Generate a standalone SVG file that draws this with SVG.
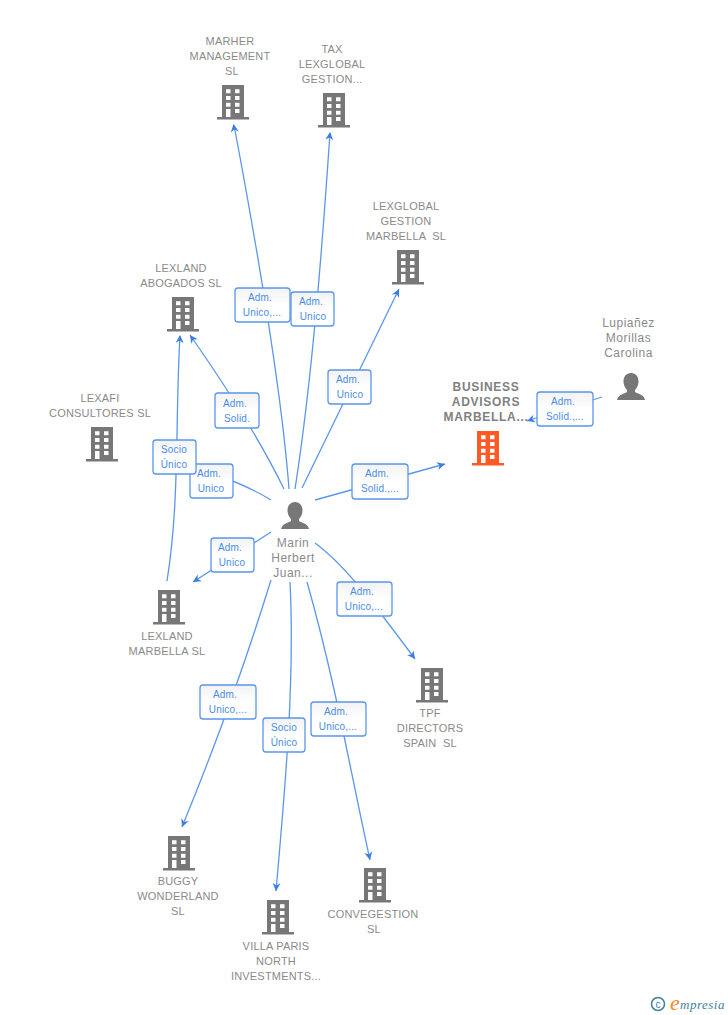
<svg xmlns="http://www.w3.org/2000/svg" width="728" height="1015" viewBox="0 0 728 1015">
<style>
text{font-family:"Liberation Sans",Arial,sans-serif}
.n{font-size:11px;fill:#8a8a8a;text-anchor:middle;letter-spacing:.2px}
.b{font-size:12px;fill:#808080;font-weight:700;text-anchor:middle;letter-spacing:.7px}
.p{font-size:12px;fill:#8a8a8a;text-anchor:middle;letter-spacing:.5px}
.e{font-size:10px;fill:#4a8ce6;text-anchor:middle;letter-spacing:.2px}
.box{fill:url(#g);stroke:#5a97ea;stroke-width:1.300}
.c{fill:none;stroke:#5a97ea;stroke-width:1.300}
.h{fill:#3a7fe0}
</style>
<defs>
<linearGradient id="g" x1="0" y1="0" x2="0" y2="1"><stop offset="0" stop-color="#f2f2f2"/><stop offset=".5" stop-color="#fff"/></linearGradient>
<path id="ah" d="M0 0L-8 -4L-5.500 0L-8 4Z"/>
<g id="bld">
<path fill-rule="evenodd" d="M5 0H27V32H32V34.500H0V32H5ZM9 4.300V8.300H13.500V4.300ZM18 4.300V8.300H22.500V4.300ZM9 11V15H13.500V11ZM18 11V15H22.500V11ZM9 17.700V21.700H13.500V17.700ZM18 17.700V21.700H22.500V17.700ZM9 24V32H13.500V24ZM18 24V28H22.500V24Z"/>
</g>
<path id="per" d="M14 1C19 1 21.500 5 21.500 9.500C21.500 13 20 16 18 18L18 20C21 22 27 22.500 28 28H0C1 22.500 7 22 10 20L10 18C8 16 6.500 13 6.500 9.500C6.500 5 9 1 14 1Z"/>
</defs>
<g id="connectors">
<path class="c" d="M289 489C283 410 266 295 234 125"/><use href="#ah" class="h" transform="translate(233.500 124) rotate(-99)"/>
<path class="c" d="M295 489C312 380 322 250 330 133"/><use href="#ah" class="h" transform="translate(330 132) rotate(-85)"/>
<path class="c" d="M302 488L399 289"/><use href="#ah" class="h" transform="translate(399 289) rotate(-64)"/>
<path class="c" d="M284 489C260 440 225 385 190 335"/><use href="#ah" class="h" transform="translate(190 335) rotate(-125)"/>
<path class="c" d="M271 500C235 478 190 465 153 456"/>
<path class="c" d="M167 581C180 500 175 420 180 336"/><use href="#ah" class="h" transform="translate(180 335) rotate(-88)"/>
<path class="c" d="M315 500L445 464"/><use href="#ah" class="h" transform="translate(445 464) rotate(-15)"/>
<path class="c" d="M602 397L527 421"/><use href="#ah" class="h" transform="translate(527 421) rotate(162)"/>
<path class="c" d="M271 532L193 582"/><use href="#ah" class="h" transform="translate(193 582) rotate(148)"/>
<path class="c" d="M315 543C345 565 375 605 415 659"/><use href="#ah" class="h" transform="translate(415 659) rotate(54)"/>
<path class="c" d="M271 580Q233 703 182 827"/><use href="#ah" class="h" transform="translate(182 827) rotate(112)"/>
<path class="c" d="M290 582C295 680 285 790 276 891"/><use href="#ah" class="h" transform="translate(276 891) rotate(94)"/>
<path class="c" d="M307 582C335 680 350 770 370 860"/><use href="#ah" class="h" transform="translate(370 860) rotate(78)"/>
</g>
<g id="n-marher" fill="#777"><use href="#bld" x="217" y="85"/><text class="n" x="230" y="45">MARHER</text><text class="n" x="230" y="60">MANAGEMENT</text><text class="n" x="232" y="75">SL</text></g>
<g id="n-tax" fill="#777"><use href="#bld" x="318" y="93"/><text class="n" x="332" y="53">TAX</text><text class="n" x="332" y="68">LEXGLOBAL</text><text class="n" x="332" y="83">GESTION...</text></g>
<g id="n-lexglobal" fill="#777"><use href="#bld" x="392" y="250"/><text class="n" x="406" y="210">LEXGLOBAL</text><text class="n" x="406" y="225">GESTION</text><text class="n" x="406" y="240" xml:space="preserve">MARBELLA  SL</text></g>
<g id="n-abogados" fill="#777"><use href="#bld" x="167" y="297"/><text class="n" x="181" y="272">LEXLAND</text><text class="n" x="181" y="287">ABOGADOS SL</text></g>
<g id="n-lexafi" fill="#777"><use href="#bld" x="86" y="427"/><text class="n" x="100" y="402">LEXAFI</text><text class="n" x="100" y="417">CONSULTORES SL</text></g>
<g id="n-business" fill="#ff5a26"><use href="#bld" x="472" y="431"/><text class="b" x="486" y="391">BUSINESS</text><text class="b" x="486" y="406">ADVISORS</text><text class="b" x="486" y="421">MARBELLA...</text></g>
<g id="n-lupianez" fill="#777"><use href="#per" x="617" y="372"/><text class="p" x="628.500" y="327">Lupiañez</text><text class="p" x="628.500" y="342">Morillas</text><text class="p" x="628.500" y="357">Carolina</text></g>
<g id="n-marin" fill="#777"><use href="#per" x="281" y="501"/><text class="p" x="293" y="547">Marin</text><text class="p" x="293" y="562">Herbert</text><text class="p" x="293" y="577">Juan...</text></g>
<g id="n-marbella" fill="#777"><use href="#bld" x="153" y="590"/><text class="n" x="167" y="640">LEXLAND</text><text class="n" x="167" y="655">MARBELLA SL</text></g>
<g id="n-tpf" fill="#777"><use href="#bld" x="416" y="668"/><text class="n" x="430" y="717">TPF</text><text class="n" x="430" y="732">DIRECTORS</text><text class="n" x="430" y="747" xml:space="preserve">SPAIN  SL</text></g>
<g id="n-buggy" fill="#777"><use href="#bld" x="163" y="836"/><text class="n" x="178" y="885">BUGGY</text><text class="n" x="178" y="900">WONDERLAND</text><text class="n" x="178" y="915">SL</text></g>
<g id="n-villa" fill="#777"><use href="#bld" x="262" y="900"/><text class="n" x="276" y="950">VILLA PARIS</text><text class="n" x="276" y="965">NORTH</text><text class="n" x="276" y="980">INVESTMENTS...</text></g>
<g id="n-conve" fill="#777"><use href="#bld" x="359" y="868"/><text class="n" x="373" y="918">CONVEGESTION</text><text class="n" x="374" y="933">SL</text></g>
<g id="edge-labels">
<g><rect class="box" x="235" y="288" width="55" height="34" rx="3"/><text class="e" x="260" y="301">Adm.</text><text class="e" x="262" y="316">Unico,...</text></g>
<g><rect class="box" x="291" y="292" width="43" height="34" rx="3"/><text class="e" x="311" y="305">Adm.</text><text class="e" x="313" y="320">Unico</text></g>
<g><rect class="box" x="328" y="370" width="43" height="34" rx="3"/><text class="e" x="348" y="383">Adm.</text><text class="e" x="350" y="398">Unico</text></g>
<g><rect class="box" x="215" y="393" width="44" height="35" rx="3"/><text class="e" x="235" y="407">Adm.</text><text class="e" x="237" y="422">Solid.</text></g>
<g><rect class="box" x="190" y="464" width="43" height="34" rx="3"/><text class="e" x="209" y="477">Adm.</text><text class="e" x="211" y="492">Unico</text></g>
<g><rect class="box" x="153" y="440" width="43" height="34" rx="3"/><text class="e" x="174" y="453">Socio</text><text class="e" x="174" y="468">Único</text></g>
<g><rect class="box" x="352" y="464" width="56" height="35" rx="3"/><text class="e" x="377" y="477">Adm.</text><text class="e" x="380" y="492">Solid.,...</text></g>
<g><rect class="box" x="537" y="392" width="56" height="34" rx="3"/><text class="e" x="563" y="405">Adm.</text><text class="e" x="565" y="420">Solid.,...</text></g>
<g><rect class="box" x="211" y="538" width="43" height="34" rx="3"/><text class="e" x="230" y="551">Adm.</text><text class="e" x="232" y="566">Unico</text></g>
<g><rect class="box" x="337" y="582" width="55" height="34" rx="3"/><text class="e" x="362" y="595">Adm.</text><text class="e" x="364" y="610">Unico,...</text></g>
<g><rect class="box" x="200" y="685" width="56" height="34" rx="3"/><text class="e" x="225" y="698">Adm.</text><text class="e" x="228" y="713">Unico,...</text></g>
<g><rect class="box" x="263" y="718" width="42" height="34" rx="3"/><text class="e" x="284" y="731">Socio</text><text class="e" x="284" y="746">Único</text></g>
<g><rect class="box" x="311" y="702" width="55" height="34" rx="3"/><text class="e" x="336" y="715">Adm.</text><text class="e" x="338" y="730">Unico,...</text></g>
</g>
<g id="logo"><circle cx="658" cy="1004" r="6.500" fill="none" stroke="#3f7f9f" stroke-width="1.500"/><text x="658" y="1007.500" font-size="10" fill="#3f7f9f" text-anchor="middle">c</text><text x="670" y="1010" font-size="22" fill="#f58a1f" font-style="italic" style="font-family:'Liberation Serif',serif">e</text><text x="680" y="1009" font-size="13" fill="#3f7f9f" font-style="italic" style="font-family:'Liberation Serif',serif" letter-spacing=".5">mpresia</text></g>
</svg>
